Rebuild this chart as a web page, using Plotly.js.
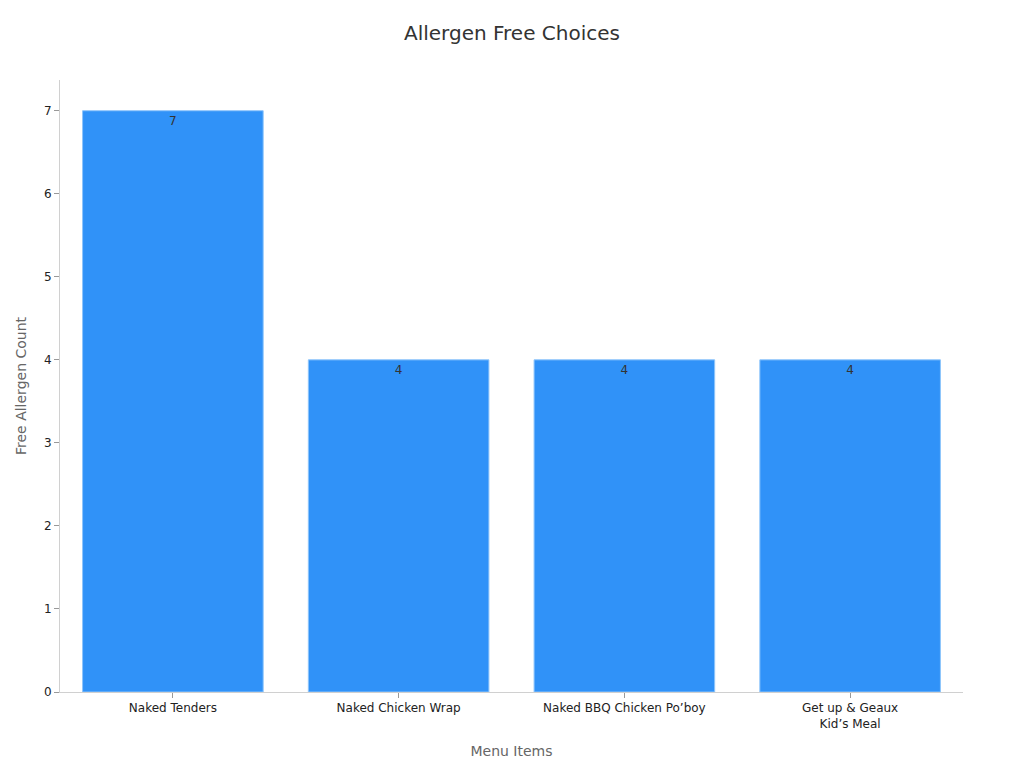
<!DOCTYPE html>
<html>
<head>
<meta charset="utf-8">
<script src="https://cdn.plot.ly/plotly-3.0.1.min.js"></script>
<style>
  body { margin: 0; background: #fff; }
  #chart { width: 1024px; height: 768px; }
</style>
</head>
<body>
<div id="chart"></div>
<script>
  // values
  var menuItems = ["Naked Tenders", "Naked Chicken Wrap", "Naked BBQ Chicken Po’boy", "Get up & Geaux<br>Kid’s Meal"];
  var freeCounts = [7, 4, 4, 4];

  var data = [{
    type: "bar",
    x: menuItems,
    y: freeCounts,
    text: freeCounts.map(String),
    textposition: "inside",
    insidetextanchor: "end",
    textfont: { color: "#333333", size: 12 },
    marker: { color: "#3092F8", line: { color: "#8ec5fb", width: 1 } },
    hoverinfo: "x+y"
  }];

  var layout = {
    width: 1024,
    height: 768,
    margin: { t: 80, b: 76, l: 60, r: 61 },
    font: { family: "DejaVu Sans, sans-serif", color: "#333333" },
    title: { text: "Allergen Free Choices", x: 0.5, y: 0.966, font: { size: 20, color: "#333333" } },
    bargap: 0.2,
    showlegend: false,
    plot_bgcolor: "#ffffff",
    paper_bgcolor: "#ffffff",
    xaxis: {
      title: { text: "Menu Items", font: { size: 14, color: "#666666" }, standoff: 16 },
      tickfont: { size: 12, color: "#222222" },
      showline: true, linecolor: "#d0d0d0", linewidth: 1,
      ticks: "outside", tickcolor: "#999999", ticklen: 5,
      showgrid: false
    },
    yaxis: {
      title: { text: "Free Allergen Count", font: { size: 14, color: "#666666" }, standoff: 14 },
      range: [0, 7.37],
      dtick: 1,
      tickfont: { size: 12, color: "#222222" },
      showline: true, linecolor: "#d0d0d0", linewidth: 1,
      ticks: "outside", tickcolor: "#999999", ticklen: 5,
      showgrid: false, zeroline: false
    }
  };

  Plotly.newPlot("chart", data, layout, { displayModeBar: false });
</script>
</body>
</html>
